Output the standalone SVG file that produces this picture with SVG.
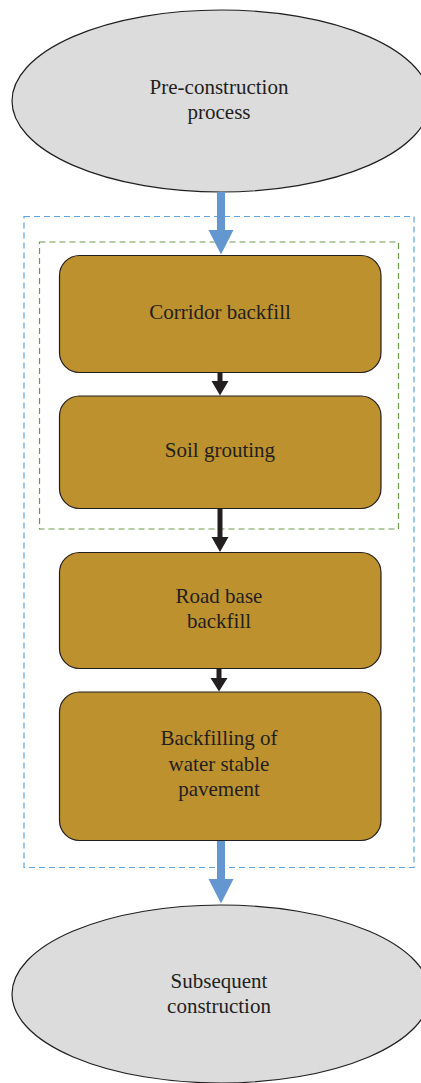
<svg xmlns="http://www.w3.org/2000/svg" width="421" height="1083" viewBox="0 0 421 1083">
<style>
.ell{fill:#dcdcdc;stroke:#231f20;stroke-width:1.2}
.box{fill:#bd912e;stroke:#231f20;stroke-width:1.2}
.t{font-family:'Liberation Serif','Times New Roman','DejaVu Serif',serif;font-size:21px;fill:#231f20;text-anchor:middle}
.blk{fill:#231f20}
.blu{fill:#6497d0}
</style>
<rect x="0" y="0" width="421" height="1083" fill="#ffffff"/>
<g id="frames">
<rect x="24" y="216.5" width="390" height="651" fill="none" stroke="#5fa4dd" stroke-width="1.2" stroke-dasharray="6,4"/>
<rect x="39.5" y="242" width="359" height="287" fill="none" stroke="#6d9a4a" stroke-width="1.2" stroke-dasharray="6,4"/>
</g>
<g id="n-pre">
<ellipse class="ell" cx="221" cy="101" rx="209" ry="91"/>
<text class="t" x="219" y="94">Pre-construction</text>
<text class="t" x="219" y="119">process</text>
</g>
<g id="n-corridor">
<rect class="box" x="59.5" y="255.5" width="321.5" height="117" rx="20"/>
<text class="t" x="220" y="319">Corridor backfill</text>
</g>
<g id="n-soil">
<rect class="box" x="59.5" y="396" width="321.5" height="112.5" rx="20"/>
<text class="t" x="220" y="457">Soil grouting</text>
</g>
<g id="n-road">
<rect class="box" x="59.5" y="552.5" width="321.5" height="116" rx="20"/>
<text class="t" x="219" y="603">Road base</text>
<text class="t" x="219" y="627.5">backfill</text>
</g>
<g id="n-water">
<rect class="box" x="59.5" y="692" width="321.5" height="148.5" rx="20"/>
<text class="t" x="219" y="745">Backfilling of</text>
<text class="t" x="219" y="770.5">water stable</text>
<text class="t" x="219" y="796">pavement</text>
</g>
<g id="n-sub">
<ellipse class="ell" cx="221" cy="994" rx="209" ry="89"/>
<text class="t" x="219" y="988">Subsequent</text>
<text class="t" x="219" y="1013">construction</text>
</g>
<g id="connectors">
<path class="blu" d="M217,192 H225 V230 H233.5 L221,254.5 L208.5,230 H217 Z"/>
<path class="blu" d="M217,841 H225 V879 H233.5 L221,903.5 L208.5,879 H217 Z"/>
<path class="blk" d="M217.5,372.5 H222.5 V381 H228.5 L220,395.5 L211.5,381 H217.5 Z"/>
<path class="blk" d="M217.5,508.5 H222.5 V537 H228.5 L220,552 L211.5,537 H217.5 Z"/>
<path class="blk" d="M216.5,668.5 H221.5 V678 H227.5 L219,691.5 L210.5,678 H216.5 Z"/>
</g>
</svg>
